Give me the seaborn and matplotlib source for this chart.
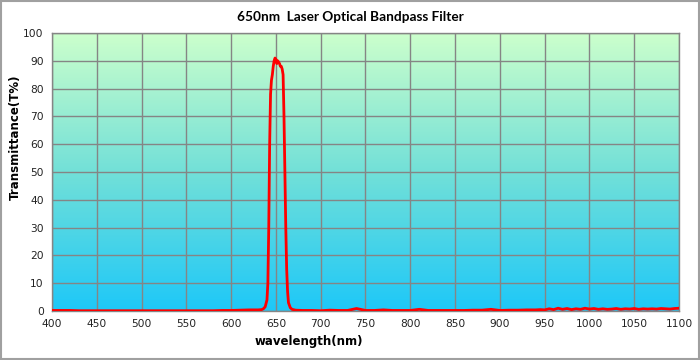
import numpy as np
import pandas as pd
import matplotlib
matplotlib.use("Agg")
import matplotlib.pyplot as plt
from matplotlib.colors import LinearSegmentedColormap
from matplotlib.patches import Rectangle
import seaborn as sns

title = "650nm  Laser Optical Bandpass Filter"
xlabel = "wavelength(nm)"
ylabel = "Transmittance(T%)"
xticks = list(range(400, 1101, 50))
yticks = list(range(0, 101, 10))

wl_left = list(range(400, 631, 10))
t_left = [0.2, 0.2, 0.2, 0.1, 0.1, 0.1, 0.1, 0.1, 0.1, 0.1, 0.1, 0.1,
          0.1, 0.1, 0.1, 0.1, 0.1, 0.1, 0.1, 0.2, 0.2, 0.3, 0.4, 0.4]

wl_peak = [634, 636, 638, 640, 641, 642, 643, 644, 645, 646, 647, 648, 649,
           650, 651, 652, 653, 654, 655, 656, 657, 658, 659, 660, 661, 662,
           663, 664, 666, 668, 672, 680]
t_peak = [0.5, 0.8, 1.5, 4, 10, 30, 60, 78, 83, 85, 88, 90, 91,
          90.5, 89, 90, 89.5, 89, 88, 88, 87, 85, 70, 50, 30, 15,
          7, 3, 1.2, 0.6, 0.3, 0.2]

wl_mid = list(range(690, 941, 10))
t_mid = [0.2, 0.1, 0.3, 0.2, 0.2, 0.9, 0.2, 0.2, 0.4, 0.2, 0.2, 0.2, 0.6,
         0.2, 0.2, 0.2, 0.2, 0.2, 0.3, 0.3, 0.6, 0.2, 0.3, 0.3, 0.4, 0.4]

wl_right = list(range(945, 1101, 5))
t_right = [0.5, 0.4, 0.8, 0.5, 1.0, 0.6, 0.9, 0.5, 0.8, 0.6, 1.0, 0.7,
           0.9, 0.6, 0.8, 0.6, 0.7, 0.9, 0.6, 0.8, 0.7, 0.9, 0.6, 0.8,
           0.7, 0.8, 0.7, 0.9, 0.8, 0.7, 0.9, 1.0]

df = pd.DataFrame({
    "wavelength": wl_left + wl_peak + wl_mid + wl_right,
    "T": t_left + t_peak + t_mid + t_right,
})

fig = plt.figure(figsize=(7, 3.6), dpi=100)
ax = fig.add_axes([52/700, 1-311/360, (679-52)/700, (311-33)/360])

cmap = LinearSegmentedColormap.from_list(
    "bg", [(0.0, "#1ec8f8"), (0.5, "#72e0d8"), (1.0, "#ccffcc")])
grad = np.linspace(0, 1, 256).reshape(-1, 1)
ax.imshow(grad, extent=[400, 1100, 0, 100], origin="lower", aspect="auto",
          cmap=cmap, zorder=0)

sns.lineplot(data=df, x="wavelength", y="T", ax=ax, color="#ff0000",
             linewidth=2.0, zorder=3)

ax.set_xlim(400, 1100)
ax.set_ylim(0, 100)
ax.set_xticks(xticks)
ax.set_yticks(yticks)
ax.grid(True, color="#858585", linewidth=1.0, zorder=1)
ax.tick_params(length=0, labelsize=7.7, pad=6, colors="#222222")
for s in ax.spines.values():
    s.set_color("#858585")
    s.set_linewidth(1.0)
ax.set_xlabel("")
ax.set_ylabel("")

fig.text(0.5, 1-17/360, title, ha="center", va="center",
         fontsize=9.8, fontweight="bold", family="Lato")
fig.text(309/700, 1-341/360, xlabel, ha="center", va="center",
         fontsize=8.5, fontweight="bold")
fig.text(15/700, 1-137/360, ylabel, ha="center", va="center",
         rotation=90, fontsize=8.5, fontweight="bold")

fig.add_artist(Rectangle((0.002, 0.003), 0.996, 0.994, transform=fig.transFigure,
                         fill=False, edgecolor="#a0a0a0", linewidth=1.5))

fig.savefig("out.png", dpi=100)
